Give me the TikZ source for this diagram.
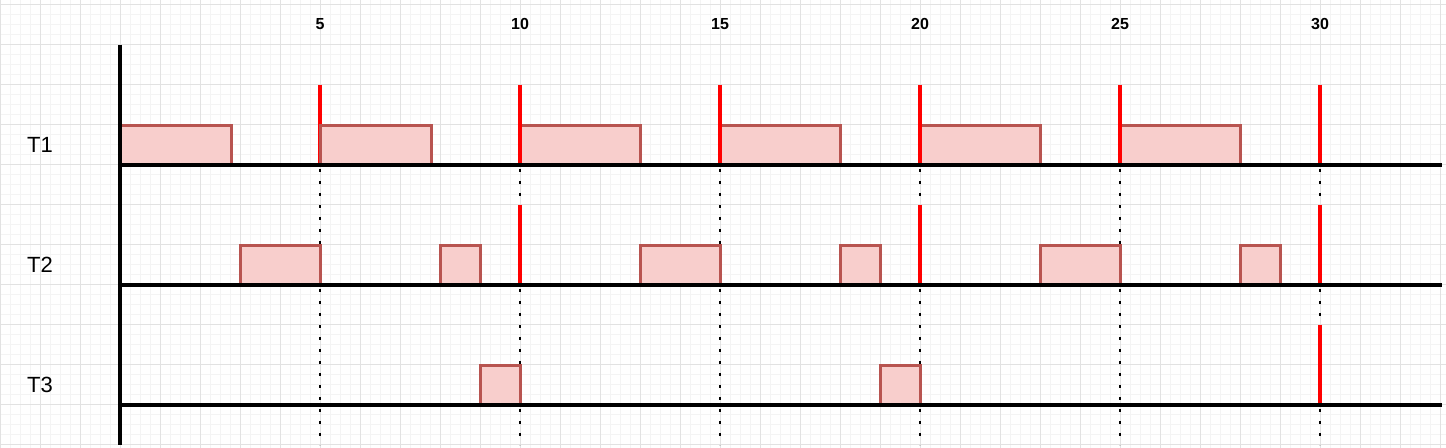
\documentclass[tikz,border=0pt]{standalone}
\usepackage{fontspec}
\setmainfont{Liberation Sans}
\definecolor{boxfill}{HTML}{F8CECC}
\definecolor{boxborder}{HTML}{B85450}
\definecolor{gridminor}{HTML}{F4F4F4}
\definecolor{gridmajor}{HTML}{E2E2E2}
\begin{document}
\begin{tikzpicture}[x=0.75pt,y=-0.75pt,
  minorgrid/.style={draw=gridminor, line width=0.75pt},
  majorgrid/.style={draw=gridmajor, line width=0.75pt},
  axisline/.style={draw=black, line width=2.4pt},
  jobbox/.style={draw=boxborder, fill=boxfill, line width=2pt},
  deadline/.style={draw=red, line width=2.3pt},
  periodline/.style={draw=black, line width=1.9pt, dash pattern=on 1.9pt off 7.1pt},
  tasklabel/.style={font=\fontsize{16.5}{20}\selectfont, inner sep=0pt},
  ticklabel/.style={font=\bfseries\fontsize{12}{14}\selectfont, inner sep=0pt}]
\useasboundingbox (0,0) rectangle (1446,448);
\fill[white] (0,0) rectangle (1446,448);
% grid
\foreach \x in {0,10,...,1440} \draw[minorgrid] (\x,0) -- (\x,448);
\foreach \y in {5,15,...,445} \draw[minorgrid] (0,\y) -- (1446,\y);
\foreach \x in {0,40,...,1440} \draw[majorgrid] (\x,0) -- (\x,448);
\foreach \y in {5,45,...,445} \draw[majorgrid] (0,\y) -- (1446,\y);
% coordinates
\foreach \t/\x in {5/320,10/520,15/720,20/920,25/1120,30/1320} {
  \coordinate (top\t) at (\x,85);
  \coordinate (bot\t) at (\x,445);
  \coordinate (a\t) at (\x,85);
  \coordinate (b\t) at (\x,165);
  \coordinate (c\t) at (\x,205);
  \coordinate (d\t) at (\x,285);
  \coordinate (e\t) at (\x,325);
  \coordinate (f\t) at (\x,405);
  \node[ticklabel] (n\t) at (\x,24) {\t};
}
% period dotted lines
\foreach \t in {5,10,15,20,25,30} \draw[periodline] (top\t) -- (bot\t);
% red deadline at 5 (under box)
\draw[deadline] (a5) -- (b5);
\begin{scope}[shift={(0.6,0.6)}]
% T1 jobs
\draw[jobbox] (120,125) rectangle (231,165);
\draw[jobbox] (320,125) rectangle (431,165);
\foreach \x in {520,720,920,1120}
  \draw[jobbox] (\x,125) rectangle ++(120,40);
% T2 jobs
\foreach \x/\w in {240/80,440/40,640/80,840/40,1040/80,1240/40}
  \draw[jobbox] (\x,245) rectangle ++(\w,40);
% T3 jobs
\foreach \x in {480,880}
  \draw[jobbox] (\x,365) rectangle ++(40,40);
\end{scope}
% red deadlines
\foreach \t in {10,15,20,25,30} \draw[deadline] (a\t) -- (b\t);
\foreach \t in {10,20,30} \draw[deadline] (c\t) -- (d\t);
\draw[deadline] (e30) -- (f30);
% axes
\coordinate (ax0) at (120,45);
\coordinate (ax1) at (120,445);
\coordinate (l1s) at (120,165); \coordinate (l1e) at (1442,165);
\coordinate (l2s) at (120,285); \coordinate (l2e) at (1442,285);
\coordinate (l3s) at (120,405); \coordinate (l3e) at (1442,405);
\draw[axisline] (l1s) -- (l1e);
\draw[axisline] (l2s) -- (l2e);
\draw[axisline] (l3s) -- (l3e);
\draw[axisline] (ax0) -- (ax1);
% task labels
\node[tasklabel] (T1) at (40,145) {T1};
\node[tasklabel] (T2) at (40,265) {T2};
\node[tasklabel] (T3) at (40,385) {T3};
\end{tikzpicture}
\end{document}
